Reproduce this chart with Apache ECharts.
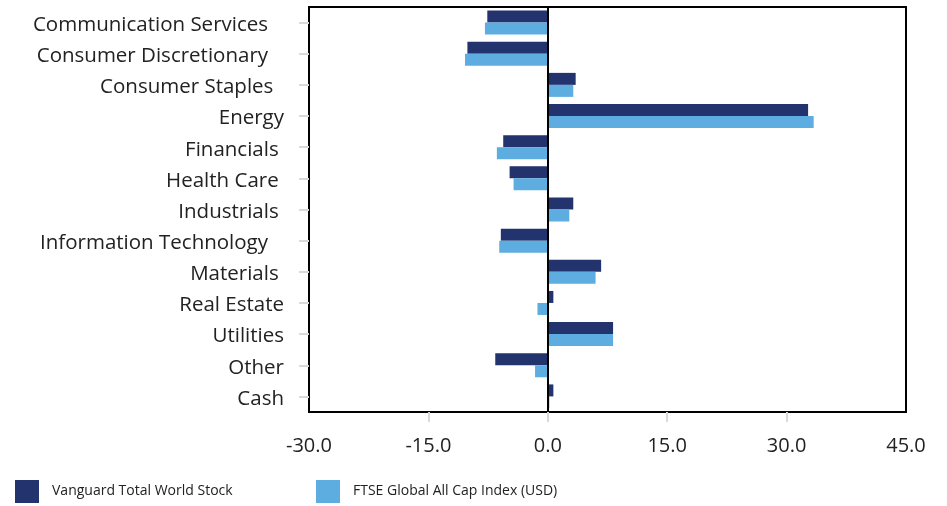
<!DOCTYPE html>
<html>
<head>
<meta charset="utf-8">
<script src="https://cdn.jsdelivr.net/npm/echarts@6/dist/echarts.min.js"></script>
<style>
  html, body { margin: 0; padding: 0; background: #fff; }
  #chart { width: 947px; height: 506px; }
</style>
</head>
<body>
<div id="chart"></div>
<script>
// Sector weights relative to zero, one value per sector
const categories = [
  'Communication Services', 'Consumer Discretionary', 'Consumer Staples', 'Energy',
  'Financials', 'Health Care', 'Industrials', 'Information Technology', 'Materials',
  'Real Estate', 'Utilities', 'Other', 'Cash'
];
const fundValues  = [-7.6, -10.1, 3.5, 32.7, -5.6, -4.8, 3.2, -5.9, 6.7, 0.7, 8.2, -6.6, 0.7];
const indexValues = [-7.9, -10.4, 3.2, 33.4, -6.4, -4.3, 2.7, -6.1, 6.0, -1.3, 8.2, -1.6, 0.2];
const seriesNames = ['Vanguard Total World Stock', 'FTSE Global All Cap Index (USD)'];
const xTickValues = [-30, -15, 0, 15, 30, 45];

const DARK = '#22336e';
const LIGHT = '#5eade0';
const FONT = '"Open Sans", "DejaVu Sans", sans-serif';

// trailing space count after each sector label (keeps the ragged right edge)
const labelTrail = {
  'Communication Services': 3, 'Consumer Discretionary': 3, 'Consumer Staples': 2,
  'Financials': 1, 'Health Care': 1, 'Industrials': 1, 'Information Technology': 3,
  'Materials': 1
};

const chart = echarts.init(document.getElementById('chart'), null, { renderer: 'canvas' });

chart.setOption({
  animation: false,
  backgroundColor: '#fff',
  grid: {
    left: 309, right: 41, top: 7, bottom: 94,
    show: true, borderColor: '#000', borderWidth: 2, backgroundColor: 'transparent'
  },
  legend: [
    {
      data: [seriesNames[0]], left: 15, top: 480, padding: 0,
      icon: 'rect', itemWidth: 24, itemHeight: 23,
      textStyle: { fontFamily: FONT, fontSize: 14, color: '#222', padding: [2, 0, 0, 8] }
    },
    {
      data: [seriesNames[1]], left: 316, top: 480, padding: 0,
      icon: 'rect', itemWidth: 24, itemHeight: 23,
      textStyle: { fontFamily: FONT, fontSize: 14, color: '#222', padding: [2, 0, 0, 8] }
    }
  ],
  xAxis: {
    type: 'value', min: -30, max: 45, interval: 15,
    axisLine: { show: false },
    splitLine: { show: false },
    axisTick: {
      show: true, length: 10, customValues: [-15, 0, 15, 30],
      lineStyle: { color: '#d9d9d9', width: 2 }
    },
    axisLabel: {
      customValues: xTickValues,
      margin: 24, fontFamily: FONT, fontSize: 20, color: '#222',
      formatter: v => v.toFixed(1)
    }
  },
  yAxis: {
    type: 'category', data: categories, inverse: true,
    axisLine: { show: false, onZero: false },
    axisTick: { show: true, alignWithLabel: true, length: 10, lineStyle: { color: '#d9d9d9', width: 2 } },
    axisLabel: {
      interval: 0, hideOverlap: false,
      margin: 25, color: '#222',
      formatter: name => '{t|' + name + ' '.repeat(labelTrail[name] || 0) + '}',
      rich: {
        t: { fontFamily: FONT, fontSize: 20.5, color: '#222', padding: [5, 0, 0, 0] }
      }
    }
  },
  series: [
    {
      name: seriesNames[0], type: 'bar', data: fundValues,
      barWidth: 12, barGap: '0%', itemStyle: { color: DARK },
      markLine: {
        silent: true, symbol: 'none', label: { show: false },
        lineStyle: { color: '#000', width: 2, type: 'solid' },
        data: [{ xAxis: 0 }]
      },
      z: 2
    },
    {
      name: seriesNames[1], type: 'bar', data: indexValues,
      barWidth: 12, barGap: '0%', itemStyle: { color: LIGHT }, z: 2
    }
  ]
});
</script>
</body>
</html>
